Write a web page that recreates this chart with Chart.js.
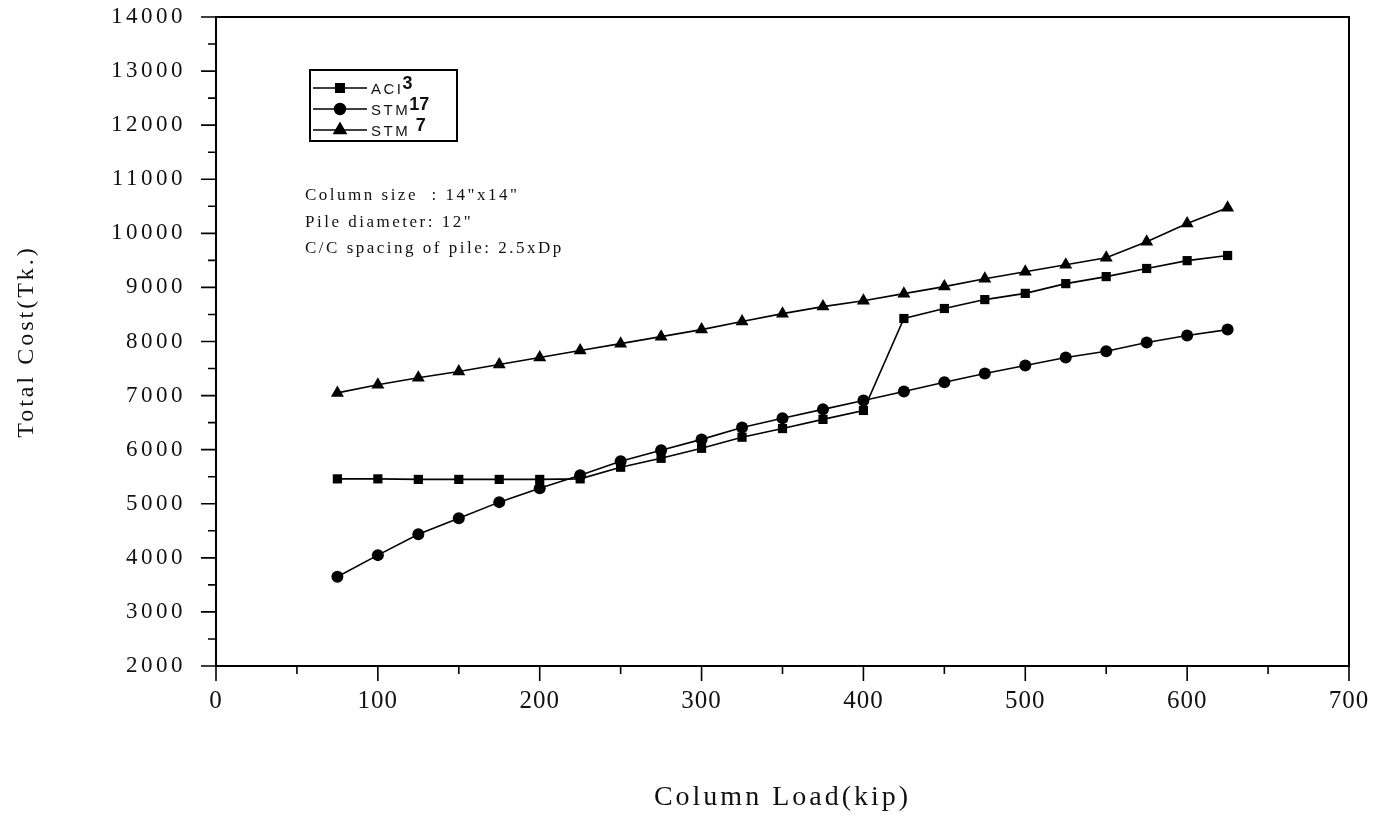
<!DOCTYPE html>
<html lang="en">
  <head>
    <meta charset="UTF-8" />
    <title>Total Cost vs Column Load</title>
    <script src="https://cdn.jsdelivr.net/npm/chart.js"></script>
    <style>
      html, body { margin: 0; padding: 0; background: #fff; }
      #wrap { width: 1374px; height: 814px; position: relative; }
    </style>
  </head>
  <body>
    <div id="wrap"><canvas id="costChart"></canvas></div>

  <script>
    // column load (kip)
    var loads = [75, 100, 125, 150, 175, 200, 225, 250, 275, 300, 325, 350, 375, 400,
                 425, 450, 475, 500, 525, 550, 575, 600, 625];
    // total cost (Tk.)
    var aci3  = [5460, 5460, 5450, 5450, 5450, 5450, 5460, 5675, 5840, 6025, 6230, 6390, 6560, 6725,
                 8425, 8610, 8775, 8890, 9070, 9200, 9350, 9495, 9590];
    var stm17 = [3650, 4050, 4435, 4730, 5030, 5285, 5525, 5785, 5990, 6190, 6410, 6580, 6745, 6910,
                 7075, 7245, 7410, 7555, 7705, 7820, 7980, 8110, 8220];
    var stm7  = [7050, 7200, 7330, 7445, 7575, 7705, 7835, 7960, 8090, 8220, 8370, 8515, 8645, 8755,
                 8885, 9015, 9160, 9290, 9420, 9550, 9845, 10180, 10475];

    var seriesNames = ['ACI', 'STM', 'STM '];
    var seriesSup = ['3', '17', '7'];

    var xTickLabels = ['0', '100', '200', '300', '400', '500', '600', '700'];
    var yTickLabels = ['2000', '3000', '4000', '5000', '6000', '7000', '8000',
                       '9000', '10000', '11000', '12000', '13000', '14000'];
    var notes = ['Column size  : 14"x14"', 'Pile diameter: 12"', 'C/C spacing of pile: 2.5xDp'];

    function pairs(ys) {
      return loads.map(function (x, i) { return { x: x, y: ys[i] }; });
    }

    var serif = '"Liberation Serif", "DejaVu Serif", serif';

    // frame, outward ticks, tick labels, legend box and the note block
    var paperPlugin = {
      id: 'paper',
      beforeDraw: function (chart) {
        chart.ctx.letterSpacing = '3px';
      },
      afterDraw: function (chart) {
        var ctx = chart.ctx, a = chart.chartArea;
        var xs = chart.scales.x, ys = chart.scales.y;
        ctx.save();
        ctx.strokeStyle = '#000';
        ctx.fillStyle = '#111';
        ctx.lineWidth = 2;
        ctx.strokeRect(a.left, a.top, a.right - a.left, a.bottom - a.top);

        ctx.lineWidth = 1.6;
        ctx.beginPath();
        for (var v = 0; v <= 700; v += 50) {
          var px = xs.getPixelForValue(v);
          ctx.moveTo(px, a.bottom);
          ctx.lineTo(px, a.bottom + (v % 100 === 0 ? 15 : 8));
        }
        for (var w = 2000; w <= 14000; w += 500) {
          var py = ys.getPixelForValue(w);
          ctx.moveTo(a.left, py);
          ctx.lineTo(a.left - (w % 1000 === 0 ? 15 : 8), py);
        }
        ctx.stroke();

        // tick labels
        ctx.letterSpacing = '1px';
        ctx.font = '25px ' + serif;
        ctx.textAlign = 'center';
        ctx.textBaseline = 'middle';
        xTickLabels.forEach(function (t) {
          ctx.fillText(t, xs.getPixelForValue(+t), 701);
        });
        ctx.letterSpacing = '3.5px';
        ctx.font = '23px ' + serif;
        ctx.textAlign = 'right';
        yTickLabels.forEach(function (t) {
          ctx.fillText(t, a.left - 30, ys.getPixelForValue(+t));
        });

        // legend
        ctx.lineWidth = 2;
        ctx.strokeRect(310, 70, 147, 71);
        var rows = [88, 109, 130];
        chart.data.datasets.forEach(function (ds, i) {
          var ry = rows[i];
          ctx.lineWidth = 1.5;
          ctx.beginPath();
          ctx.moveTo(313, ry);
          ctx.lineTo(367, ry);
          ctx.stroke();
          ctx.fillStyle = '#000';
          Chart.helpers.drawPoint(ctx, { pointStyle: ds.pointStyle, radius: ds.pointRadius - 0.5, rotation: 0, borderWidth: 1 }, 340, ry);
          ctx.fillStyle = '#111';
          ctx.textAlign = 'left';
          ctx.textBaseline = 'alphabetic';
          ctx.letterSpacing = '2.5px';
          ctx.font = '15px "Liberation Sans", Arial, sans-serif';
          ctx.fillText(seriesNames[i], 371, ry + 6);
          var tw = ctx.measureText(seriesNames[i]).width;
          ctx.letterSpacing = '0px';
          ctx.font = 'bold 18px "Liberation Sans", Arial, sans-serif';
          ctx.fillText(seriesSup[i], 370 + tw, ry + 1);
        });

        // notes
        ctx.letterSpacing = '2.5px';
        ctx.font = '17px ' + serif;
        ctx.textAlign = 'left';
        ctx.textBaseline = 'middle';
        notes.forEach(function (t, i) {
          ctx.fillText(t, 305, 196 + i * 26.5);
        });
        ctx.restore();
      }
    };

    var ctx = document.getElementById('costChart').getContext('2d');
    var costChart = new Chart(ctx, {
      type: 'line',
      data: {
        datasets: [
          { label: 'ACI 3', data: pairs(aci3), pointStyle: 'rect', pointRadius: 6.5 },
          { label: 'STM 17', data: pairs(stm17), pointStyle: 'circle', pointRadius: 6 },
          { label: 'STM 7', data: pairs(stm7), pointStyle: 'triangle', pointRadius: 7.5 }
        ].map(function (d) {
          d.borderColor = '#000';
          d.backgroundColor = '#000';
          d.borderWidth = 1.6;
          d.pointBorderWidth = 0;
          d.tension = 0;
          return d;
        })
      },
      options: {
        responsive: true,
        maintainAspectRatio: false,
        animation: false,
        events: [],
        layout: { padding: { top: 17, right: 25, bottom: 0, left: 0 } },
        plugins: { legend: { display: false }, tooltip: { enabled: false } },
        scales: {
          x: {
            type: 'linear', min: 0, max: 700,
            grid: { display: false }, border: { display: false },
            ticks: { display: false },
            title: { display: true, text: 'Column Load(kip)', color: '#111',
                     font: { family: serif, size: 28 }, padding: { top: 0, bottom: 0 } },
            afterFit: function (s) { s.height = 148; }
          },
          y: {
            min: 2000, max: 14000,
            grid: { display: false }, border: { display: false },
            ticks: { display: false },
            title: { display: true, text: 'Total Cost(Tk.)', color: '#111',
                     font: { family: serif, size: 24 }, padding: { top: 12, bottom: 0 } },
            afterFit: function (s) { s.width = 216; }
          }
        }
      },
      plugins: [paperPlugin]
    });
  </script>
  </body>
</html>
